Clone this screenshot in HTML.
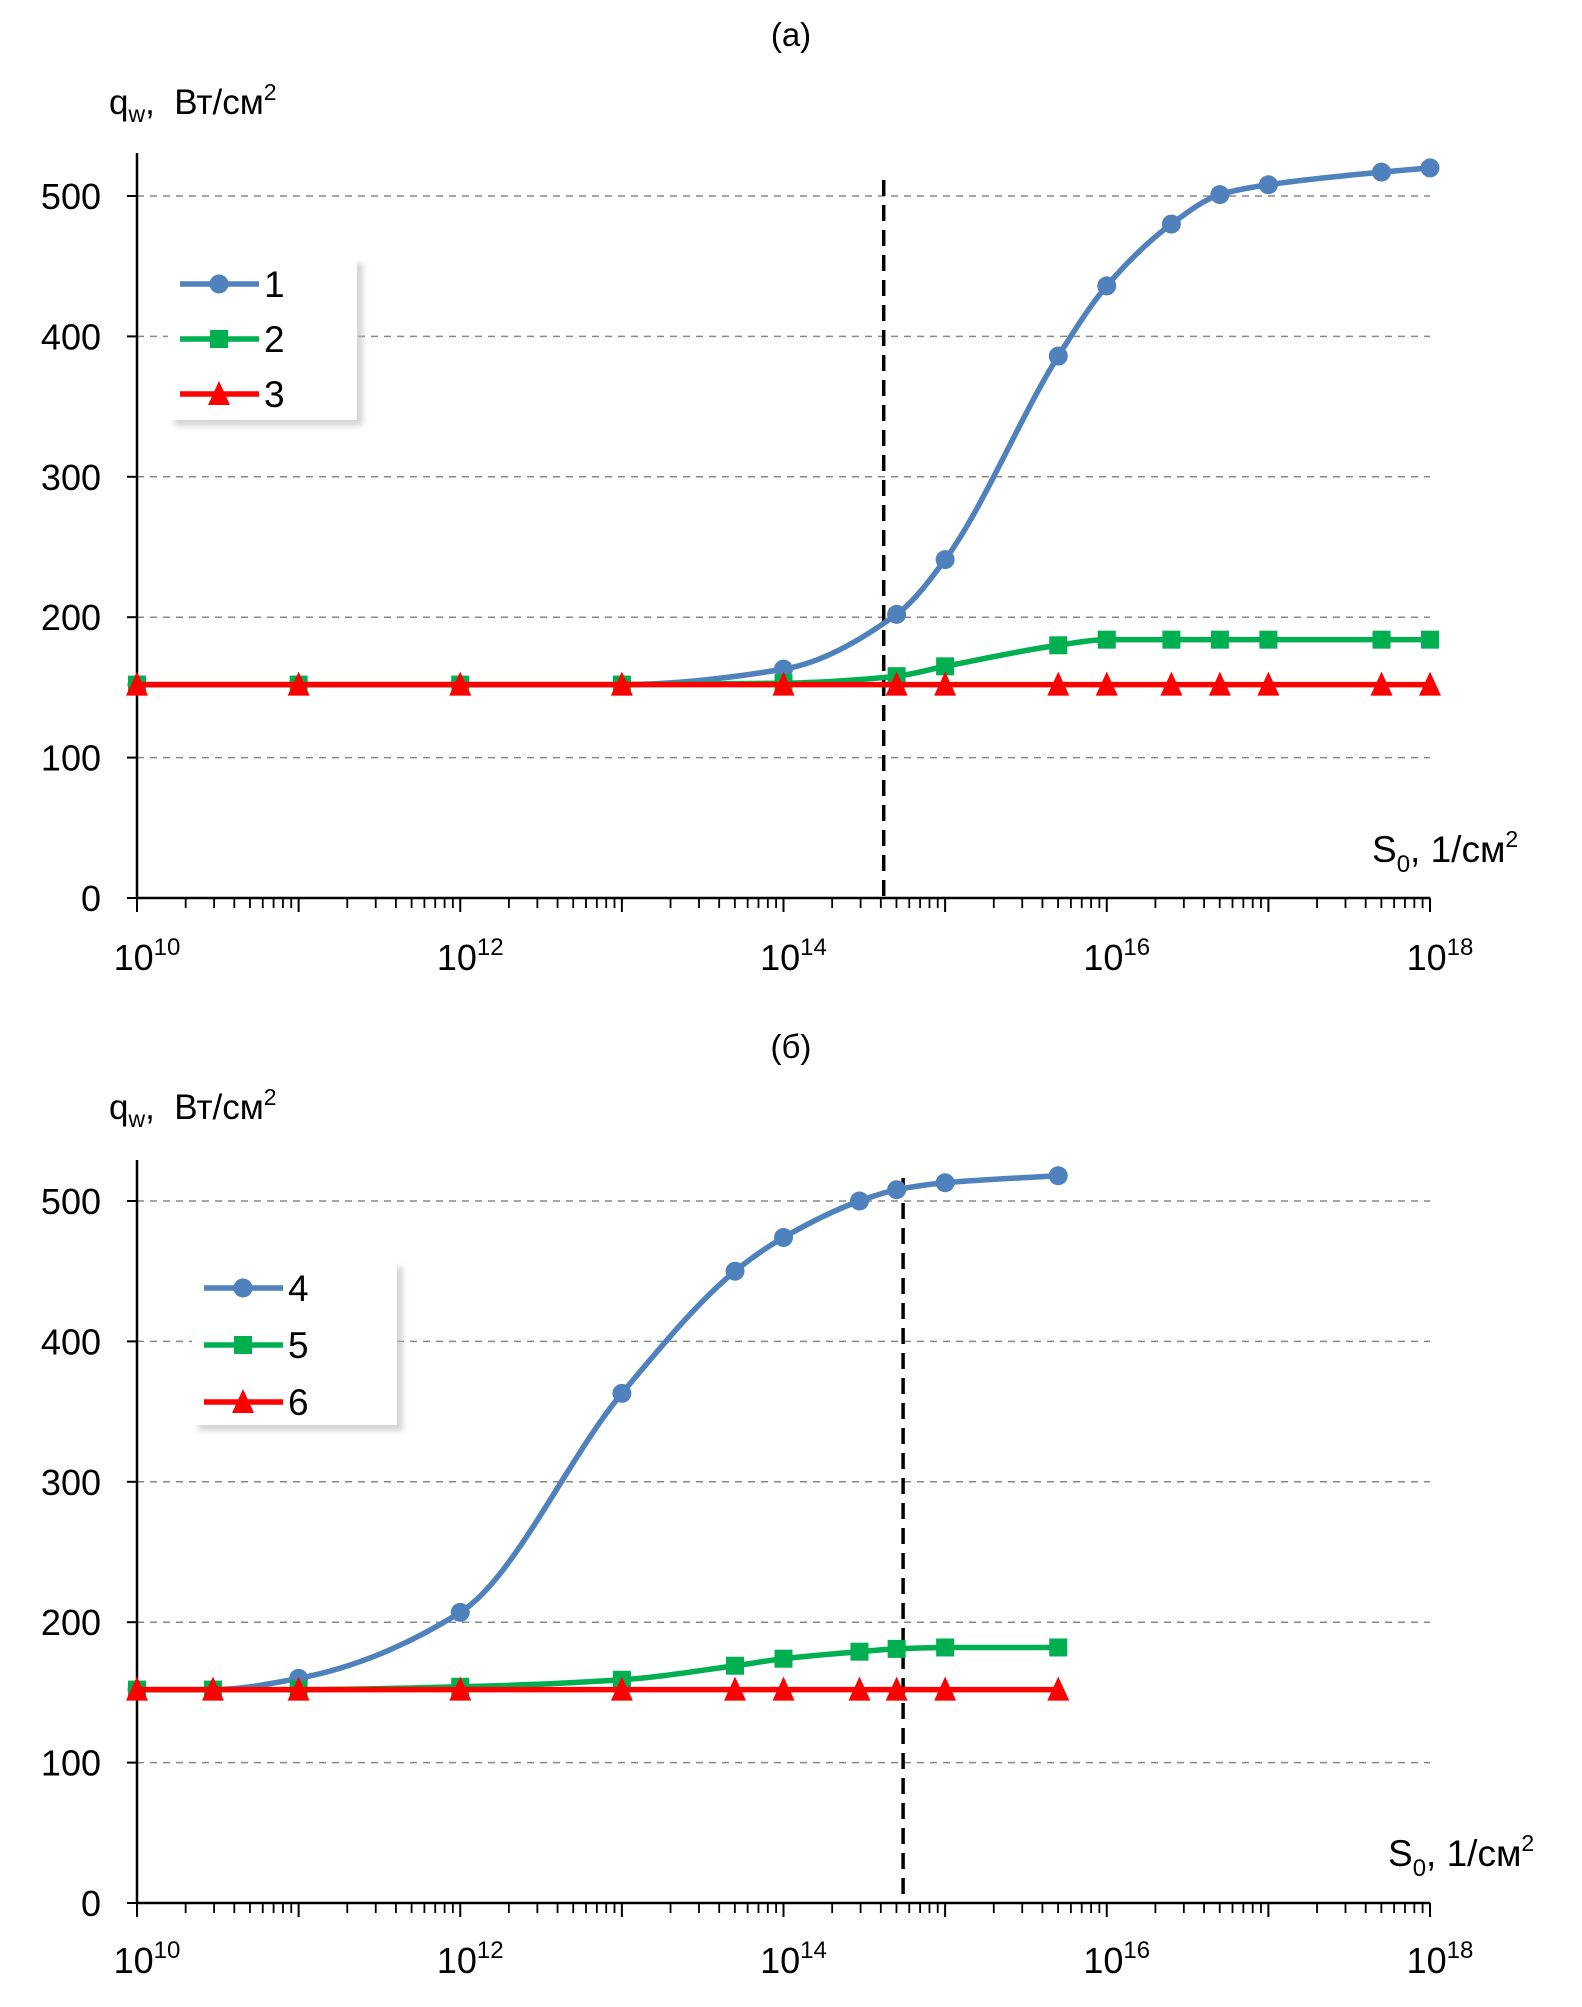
<!DOCTYPE html>
<html><head><meta charset="utf-8">
<style>
html,body{margin:0;padding:0;background:#fff;}
svg{display:block;font-family:"Liberation Sans","DejaVu Sans",sans-serif;}
</style></head>
<body>
<svg id="fig" width="1582" height="2007" viewBox="0 0 1582 2007" xmlns="http://www.w3.org/2000/svg"></svg>
<script>
// ---- Panel (a) data ----
const xA = [10, 11, 12, 13, 14, 14.7, 15, 15.7, 16, 16.4, 16.7, 17, 17.7, 18];
const s1 = [152, 152, 152, 152, 163, 202, 241, 386, 436, 480, 501, 508, 517, 520];
const s2 = [152, 152, 152, 152, 153, 158, 165, 180, 184, 184, 184, 184, 184, 184];
const s3 = [152, 152, 152, 152, 152, 152, 152, 152, 152, 152, 152, 152, 152, 152];
const vlineA = 14.62;
// ---- Panel (б) data ----
const xB = [10, 10.47, 11, 12, 13, 13.7, 14, 14.47, 14.7, 15, 15.7];
const s4 = [152, 152, 160, 207, 363, 450, 474, 500, 508, 513, 518];
const s5 = [152, 152, 152, 154, 159, 169, 174, 179, 181, 182, 182];
const s6 = [152, 152, 152, 152, 152, 152, 152, 152, 152, 152, 152];
const vlineB = 14.74;
// ---- axes ----
const yTicks = [0, 100, 200, 300, 400, 500];
const xDecades = [10, 12, 14, 16, 18];

const NS = "http://www.w3.org/2000/svg";
const svg = document.getElementById('fig');
function mk(tag, attrs, parent){
  const e = document.createElementNS(NS, tag);
  for (const k in attrs) e.setAttribute(k, attrs[k]);
  (parent||svg).appendChild(e);
  return e;
}
const BLUE='#4f81bd', GREEN='#00b050', RED='#ff0000';

function smoothPath(pts){
  const n = pts.length;
  const dx=[], m=[];
  for (let i=0;i<n-1;i++){ dx.push(pts[i+1][0]-pts[i][0]); m.push((pts[i+1][1]-pts[i][1])/dx[i]); }
  const t=[m[0]];
  for (let i=1;i<n-1;i++){
    if (m[i-1]*m[i]<=0) t.push(0);
    else { const w1=2*dx[i]+dx[i-1], w2=dx[i]+2*dx[i-1]; t.push((w1+w2)/(w1/m[i-1]+w2/m[i])); }
  }
  t.push(m[n-2]);
  let d='M'+pts[0][0]+','+pts[0][1];
  for (let i=0;i<n-1;i++){
    const h=dx[i]/3;
    d+=' C'+(pts[i][0]+h)+','+(pts[i][1]+t[i]*h)+' '+(pts[i+1][0]-h)+','+(pts[i+1][1]-t[i+1]*h)+' '+pts[i+1][0]+','+pts[i+1][1];
  }
  return d;
}

function marker(g, type, x, y, color){
  let m;
  if (type==='circle') m = mk('circle',{cx:x,cy:y,r:9.5,fill:color},g);
  else if (type==='square') m = mk('rect',{x:x-9,y:y-9,width:18,height:18,fill:color},g);
  else m = mk('polygon',{points:(x)+','+(y-13)+' '+(x+11)+','+(y+11)+' '+(x-11)+','+(y+11),fill:color},g);
  
  
}

function panel(cfg){
  const X0=137, X1=1430, Y0=cfg.y0, Y500=cfg.y500;
  const sx = v => X0 + (v-10)*(X1-X0)/8;
  const sy = v => Y0 - v*(Y0-Y500)/500;
  const g = mk('g',{});
  
  
  const t = mk('text',{x:791,y:cfg.titleY,'font-size':33,'text-anchor':'middle',fill:'#000'},g);
  t.textContent = cfg.title;
   
  yTicks.forEach(v=>{
    if (v>0){
      const l = mk('line',{x1:X0,y1:sy(v),x2:X1,y2:sy(v),stroke:'#888','stroke-width':1.5,'stroke-dasharray':'7,6'},g);
       
    }
    const tk = mk('line',{x1:X0-10,y1:sy(v),x2:X0,y2:sy(v),stroke:'#000','stroke-width':2},g);
     
    const lb = mk('text',{x:101,y:sy(v)+13,'font-size':36,'text-anchor':'end',fill:'#000'},g);
    lb.textContent = v;
     
  });
  const ya = mk('line',{x1:X0,y1:cfg.axTop,x2:X0,y2:Y0,stroke:'#000','stroke-width':2.5},g);
   
  const xa = mk('line',{x1:X0,y1:Y0,x2:X1,y2:Y0,stroke:'#000','stroke-width':2.5},g);
   
  for (let d=10; d<=18; d++){
    const mj = mk('line',{x1:sx(d),y1:Y0,x2:sx(d),y2:Y0+14,stroke:'#000','stroke-width':2},g);
     
    if (d<18) for (let k=2;k<=9;k++){
      const xv = d+Math.log10(k);
      const mn = mk('line',{x1:sx(xv),y1:Y0,x2:sx(xv),y2:Y0+10,stroke:'#000','stroke-width':1.8},g);
       
    }
  }
  xDecades.forEach(d=>{
    const tx = mk('text',{x:sx(d)+10,y:cfg.xlabY,'font-size':36,'text-anchor':'middle',fill:'#000'},g);
     
    const a = mk('tspan',{},tx); a.textContent='10';
    const b = mk('tspan',{'font-size':24,dy:-15}); tx.appendChild(b); b.textContent=String(d);
  });
  const yt = mk('text',{x:109,y:cfg.yTitleY,'font-size':35,fill:'#000'},g);
   
  yt.innerHTML = 'q<tspan font-size="23" dy="8">w</tspan><tspan dy="-8">,&#160; Вт/см</tspan><tspan font-size="23" dy="-14">2</tspan>';
  const xt = mk('text',{x:cfg.xTitleX,y:cfg.xTitleY,'font-size':37,fill:'#000'},g);
   
  xt.innerHTML = 'S<tspan font-size="24" dy="10">0</tspan><tspan dy="-10">, 1/см</tspan><tspan font-size="23" dy="-15">2</tspan>';
  const vl = mk('line',{x1:sx(cfg.vline),y1:cfg.vTop,x2:sx(cfg.vline),y2:Y0,stroke:'#000','stroke-width':3.5,'stroke-dasharray':'16,9'},g);
   
  cfg.series.forEach(s=>{
    const sg = mk('g',{},g);
     
    const pts = cfg.xs.map((x,i)=>[sx(x), sy(s.vals[i])]);
    const p = mk('path',{d:smoothPath(pts),fill:'none',stroke:s.color,'stroke-width':5.5,'stroke-linejoin':'round'},sg);
     
    pts.forEach(pt=>marker(sg,s.type,pt[0],pt[1],s.color));
  });
  const L = cfg.legend;
  const lg = mk('g',{},g);
   
  mk('rect',{x:L.x+6,y:L.y+6,width:L.w,height:L.h,fill:'#bbb',opacity:0.6,filter:'url(#blur)'},lg);
  mk('rect',{x:L.x,y:L.y,width:L.w,height:L.h,fill:'#fff'},lg);
  cfg.series.forEach((s,i)=>{
    const ey = L.y+27+i*L.step;
    const e = mk('g',{},lg);
     
    mk('line',{x1:L.x+12,y1:ey,x2:L.x+91,y2:ey,stroke:s.color,'stroke-width':5.5},e);
    marker(e,s.type,L.x+51,ey,s.color);
    const tx = mk('text',{x:L.x+96,y:ey+13,'font-size':37,fill:'#000'},e);
    tx.textContent = s.label;
  });
}
const defs = mk('defs',{});
const f = mk('filter',{id:'blur',x:'-10%',y:'-10%',width:'130%',height:'130%'},defs);
mk('feGaussianBlur',{stdDeviation:3},f);

panel({name:'panel-a',title:'(a)',titleY:46,y0:898,y500:196,axTop:153,xlabY:970,yTitleY:114,
  xTitleX:1372,xTitleY:862,vline:vlineA,vTop:180,xs:xA,
  series:[{label:'1',vals:s1,color:BLUE,type:'circle'},{label:'2',vals:s2,color:GREEN,type:'square'},{label:'3',vals:s3,color:RED,type:'triangle'}],
  legend:{x:168,y:257,w:189,h:163,step:55}});
panel({name:'panel-b',title:'(б)',titleY:1058,y0:1903,y500:1201,axTop:1160,xlabY:1973,yTitleY:1119,
  xTitleX:1388,xTitleY:1866,vline:vlineB,vTop:1178,xs:xB,
  series:[{label:'4',vals:s4,color:BLUE,type:'circle'},{label:'5',vals:s5,color:GREEN,type:'square'},{label:'6',vals:s6,color:RED,type:'triangle'}],
  legend:{x:192,y:1261,w:205,h:164,step:57}});
</script>
</body></html>
